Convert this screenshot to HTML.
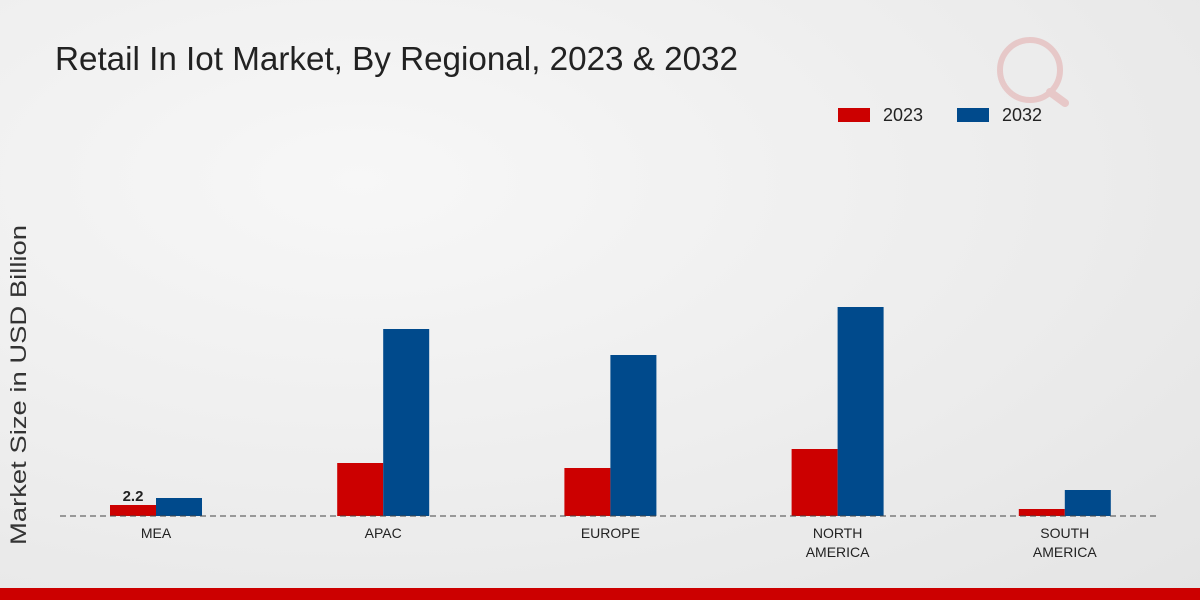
<!DOCTYPE html>
<html><head><meta charset="utf-8"><style>
html,body{margin:0;padding:0;width:1200px;height:600px;overflow:hidden}
body{background:radial-gradient(ellipse at 30% 30%,#f7f7f7 0%,#ececec 60%,#e4e4e4 100%);font-family:"Liberation Sans",sans-serif}
</style></head><body>
<svg id="chart" width="1200" height="600" xmlns="http://www.w3.org/2000/svg">
<text x="55" y="70" font-size="33" fill="#222" textLength="683" lengthAdjust="spacingAndGlyphs">Retail In Iot Market, By Regional, 2023 &amp; 2032</text>
<text transform="translate(26,385) rotate(-90)" text-anchor="middle" font-size="22" fill="#333" textLength="320" lengthAdjust="spacingAndGlyphs">Market Size in USD Billion</text>
<g>
<rect x="838" y="108" width="32" height="14" fill="#cc0000"/>
<text x="883" y="121" font-size="18" fill="#222">2023</text>
<rect x="957" y="108" width="32" height="14" fill="#004a8c"/>
<text x="1002" y="121" font-size="18" fill="#222">2032</text>
</g>
<g id="bars"></g>
<line x1="60" y1="516" x2="1160" y2="516" stroke="#444" stroke-width="1" stroke-dasharray="6,4"/>
<g id="labels"></g>
<g opacity="0.15">
<circle cx="1030" cy="70" r="30" fill="none" stroke="#c00" stroke-width="6"/>
<line x1="1050" y1="92" x2="1065" y2="103" stroke="#c00" stroke-width="8" stroke-linecap="round"/>
</g>
<rect x="0" y="588" width="1200" height="12" fill="#cc0000"/>
</svg>
<script>
const categories=["MEA","APAC","EUROPE","NORTH|AMERICA","SOUTH|AMERICA"];
const values2023=[2.2,10.6,9.6,13.4,1.4];
const values2032=[3.6,37.4,32.2,41.8,5.2];
const ns="http://www.w3.org/2000/svg";
const baseY=516,pxPerUnit=5,barW=46;
function xCenter(i){return 156+i*227.2;}
function yScale(v){return baseY-v*pxPerUnit;}
const bars=document.getElementById('bars'),labels=document.getElementById('labels');
categories.forEach((c,i)=>{
  const cx=xCenter(i);
  [[values2023,"#cc0000",-barW,"2023"],[values2032,"#004a8c",0,"2032"]].forEach(([arr,col,off,yr])=>{
    const r=document.createElementNS(ns,'rect');
    
    
    r.setAttribute('x',cx+off);r.setAttribute('width',barW);
    r.setAttribute('y',yScale(arr[i]));r.setAttribute('height',baseY-yScale(arr[i]));
    r.setAttribute('fill',col);bars.appendChild(r);
  });
  c.split('|').forEach((ln,k)=>{
    const t=document.createElementNS(ns,'text');
    
    
    t.setAttribute('x',cx);t.setAttribute('y',538+k*19);
    t.setAttribute('text-anchor','middle');t.setAttribute('font-size','14');t.setAttribute('fill','#222');
    t.textContent=ln;labels.appendChild(t);
  });
});
const vl=document.createElementNS(ns,'text');


vl.setAttribute('x',xCenter(0)-barW/2);vl.setAttribute('y',yScale(values2023[0])-4);
vl.setAttribute('text-anchor','middle');vl.setAttribute('font-size','15');vl.setAttribute('font-weight','bold');vl.setAttribute('fill','#222');
vl.textContent=values2023[0];labels.appendChild(vl);
</script>
</body></html>
